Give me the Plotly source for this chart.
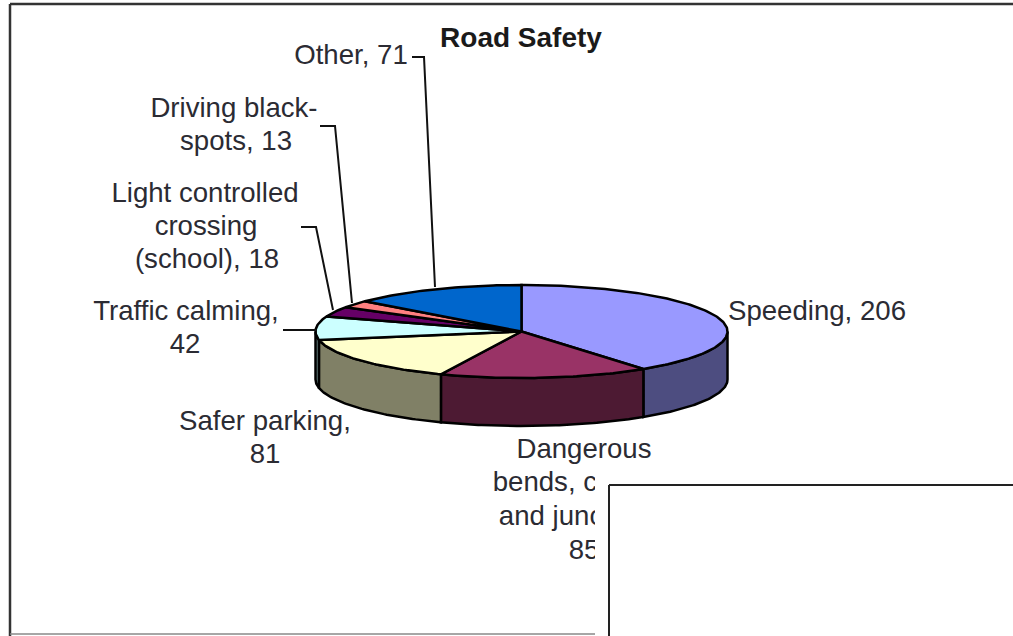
import math
import plotly.graph_objects as go

TITLE = "Road Safety"
categories = ["Speeding", "Dangerous bends, corners and junctions", "Safer parking",
              "Traffic calming", "Light controlled crossing (school)", "Driving black-spots", "Other"]
values = [206, 85, 81, 42, 18, 13, 71]
top_colors = ["#9999FF", "#993366", "#FFFFCC", "#CCFFFF", "#660066", "#FF8080", "#0066CC"]
side_colors = ["#4D4D80", "#4D1A33", "#808066", "#668080", "#330033", "#804040", "#003366"]

# one entry per text line: text, centre x, centre y (page pixels)
label_lines = [
    ("Other, 71", 351, 57),
    ("Driving black-", 234, 110), ("spots, 13", 236, 143),
    ("Light controlled", 205, 195), ("crossing", 206, 228), ("(school), 18", 207, 261),
    ("Traffic calming,", 186, 313), ("42", 185, 346),
    ("Safer parking,", 265, 423), ("81", 265, 456),
    ("Dangerous", 584, 451), ("bends, corners", 584, 484), ("and junctions,", 584, 518), ("85", 584, 552),
    ("Speeding, 206", 817, 313),
]
leaders = [
    [(412, 57), (424, 57), (435, 287)],
    [(320, 126), (335, 126), (352, 303)],
    [(301, 227), (316, 227), (333, 310)],
    [(283, 330), (316, 330)],
]

CX, CY, RX, RY, DEPTH = 521.5, 331.5, 206, 46.5, 48
TEXT = "#2b2b33"
FONT = "Liberation Sans, Arial, sans-serif"


def pt(a, dy=0.0):
    r = math.radians(a)
    return CX + RX * math.sin(r), CY - RY * math.cos(r) + dy


def arc(a0, a1, dy=0.0):
    n = max(2, int(abs(a1 - a0)) + 2)
    return [pt(a0 + (a1 - a0) * i / (n - 1), dy) for i in range(n)]


total = sum(values)
angles = [0.0]
for v in values:
    angles.append(angles[-1] + v / total * 360)

fig = go.Figure()


def poly(points, fill, width=2.5):
    xs = [p[0] for p in points] + [points[0][0]]
    ys = [p[1] for p in points] + [points[0][1]]
    fig.add_trace(go.Scatter(x=xs, y=ys, mode="lines", fill="toself", fillcolor=fill,
                             line=dict(color="#000000", width=width), hoverinfo="skip", showlegend=False))


# rim of the disc: only the front half (90..270 degrees) can be seen
for i in range(len(values)):
    a0, a1 = max(angles[i], 90), min(angles[i + 1], 270)
    if a1 > a0:
        poly(arc(a0, a1) + arc(a1, a0, DEPTH), side_colors[i])

# top faces
for i in range(len(values)):
    poly([(CX, CY)] + arc(angles[i], angles[i + 1]), top_colors[i])

for line in leaders:
    fig.add_trace(go.Scatter(x=[p[0] for p in line], y=[p[1] for p in line], mode="lines",
                             line=dict(color="#111111", width=2), hoverinfo="skip", showlegend=False))

fig.add_trace(go.Scatter(x=[l[1] for l in label_lines], y=[l[2] for l in label_lines],
                         text=[l[0] for l in label_lines], mode="text", textposition="middle center",
                         textfont=dict(family=FONT, size=27.6, color=TEXT),
                         hoverinfo="skip", showlegend=False))
fig.add_trace(go.Scatter(x=[521], y=[40], text=["<b>" + TITLE + "</b>"], mode="text",
                         textposition="middle center",
                         textfont=dict(family=FONT, size=28, color="#1a1a1a"),
                         hoverinfo="skip", showlegend=False))

border = dict(color="#333333", width=2.5)
shapes = [
    dict(type="line", x0=10, x1=1013, y0=4, y1=4, line=border),
    dict(type="line", x0=10, x1=10, y0=4, y1=636, line=border),
    dict(type="line", x0=10, x1=595, y0=634, y1=634, line=dict(color="#888888", width=1.5)),
    # white panel pasted over the chart
    dict(type="rect", x0=595, x1=1014, y0=468, y1=637, fillcolor="#FFFFFF",
         line=dict(width=0), layer="above"),
    dict(type="line", x0=609, x1=1013, y0=485, y1=485, line=dict(color="#222222", width=2), layer="above"),
    dict(type="line", x0=609, x1=609, y0=485, y1=636, line=dict(color="#222222", width=2), layer="above"),
]

fig.update_layout(
    width=1013, height=636, margin=dict(l=0, r=0, t=0, b=0),
    paper_bgcolor="#FFFFFF", plot_bgcolor="#FFFFFF", showlegend=False, shapes=shapes,
    xaxis=dict(range=[0, 1013], visible=False, fixedrange=True),
    yaxis=dict(range=[636, 0], visible=False, fixedrange=True),
)
fig.write_html("out.html", config={"displayModeBar": False},
               post_script="document.body.style.margin='0';document.documentElement.style.overflow='hidden';")
